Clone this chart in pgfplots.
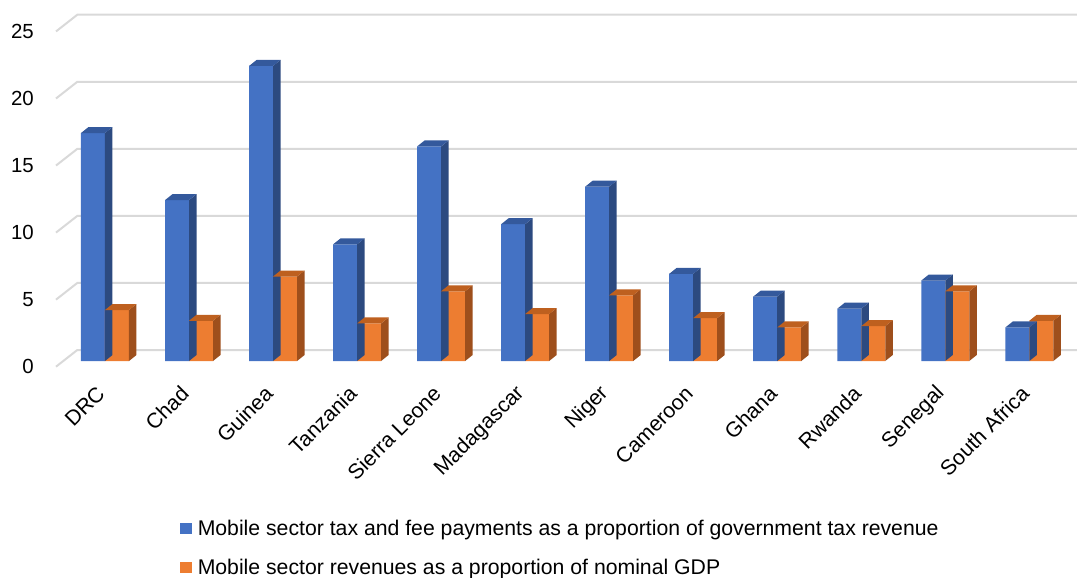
\documentclass[border=0pt]{standalone}
\usepackage{fontspec}
\setmainfont{Liberation Sans}
\usepackage{pgfplots}
\pgfplotsset{compat=1.18}
\usepackage{pgfplotstable}

\definecolor{blueF}{HTML}{4472C4}
\definecolor{blueS}{HTML}{2C4A80}
\definecolor{blueT}{HTML}{34599C}
\definecolor{oraF}{HTML}{ED7D31}
\definecolor{oraS}{HTML}{9E4F1C}
\definecolor{oraT}{HTML}{BE601F}
\definecolor{gridc}{HTML}{D9D9D9}

\pgfplotstableread{
i blue orange
0 17.0 3.8
1 12.0 3.0
2 22.0 6.3
3 8.7 2.8
4 16.0 5.2
5 10.2 3.5
6 13.0 4.9
7 6.5 3.2
8 4.8 2.5
9 3.9 2.6
10 6.0 5.2
11 2.5 3.0
}\datatable

\newcommand{\yu}{13.41}

\begin{document}
\begin{tikzpicture}[font=\fontsize{21}{25}\selectfont]
\begin{axis}[
  x=84.03bp, y=13.41bp,
  xmin=-0.5831, xmax=11.567, ymin=0, ymax=26.5,
  clip=false,
  axis line style={draw=none},
  major tick length=0pt,
  xtick={0,...,11},
  xticklabels={DRC,Chad,Guinea,Tanzania,Sierra Leone,Madagascar,Niger,Cameroon,Ghana,Rwanda,Senegal,South Africa},
  xticklabel style={xshift=-4bp, yshift=-29bp, rotate=45, anchor=east, inner sep=0pt, font=\fontsize{21.3}{25}\selectfont},
  ytick={0,5,...,25},
  yticklabel style={anchor=east, inner sep=0pt, xshift=-22bp, yshift=-5.7bp, font=\fontsize{20.5}{24}\selectfont},
  /pgf/number format/assume math mode=true,
  legend cell align=left,
  legend style={at={(0.1215,-0.448)}, anchor=north west, draw=none, fill=none,
    inner sep=0pt, row sep=22bp, font=\fontsize{21.3}{25}\selectfont,
    nodes={inner sep=0pt},
    /tikz/every odd column/.append style={column sep=6bp}},
]
\pgfplotsinvokeforeach{0,5,10,15,20,25}{
  \draw[gridc, line width=2bp] ([yshift=-5.7bp]axis cs:-0.5831,#1) -- ([xshift=21.3bp,yshift=11bp]axis cs:-0.5831,#1) -- ([yshift=11bp]axis cs:11.567,#1);
}
% blue front faces
\addplot[ybar, bar width=24bp, bar shift=-12bp, fill=blueF, draw=none,
  legend image code/.code={\fill[blueF] (0bp,-5.5bp) rectangle (11.5bp,5.5bp);}]
  table[x=i,y=blue]{\datatable};
\addlegendentry{Mobile sector tax and fee payments as a proportion of government tax revenue}
% blue side and top faces
\addplot[forget plot, scatter, only marks, mark=*, mark size=0pt,
  mark options={draw opacity=0, fill opacity=0},
  visualization depends on={\thisrow{blue} \as \val},
  scatter/@pre marker code/.code={%
    \pgfmathsetmacro\hb{6-\val*\yu}%
    \pgfmathsetmacro\hf{-\val*\yu}%
    \fill[blueS, fill opacity=1] (0bp,0bp) -- (7.5bp,6bp) -- (7.5bp,\hb bp) -- (0bp,\hf bp) -- cycle;
    \fill[blueT, fill opacity=1] (-24bp,0bp) -- (0bp,0bp) -- (7.5bp,6bp) -- (-16.5bp,6bp) -- cycle;
  },
  scatter/@post marker code/.code={}]
  table[x=i,y=blue]{\datatable};
% orange front faces
\addplot[ybar, bar width=24bp, bar shift=12bp, fill=oraF, draw=none,
  legend image code/.code={\fill[oraF] (0bp,-5.5bp) rectangle (11.5bp,5.5bp);}]
  table[x=i,y=orange]{\datatable};
\addlegendentry{Mobile sector revenues as a proportion of nominal GDP}
% orange side and top faces
\addplot[forget plot, scatter, only marks, mark=*, mark size=0pt,
  mark options={draw opacity=0, fill opacity=0},
  visualization depends on={\thisrow{orange} \as \val},
  scatter/@pre marker code/.code={%
    \pgfmathsetmacro\hb{6-\val*\yu}%
    \pgfmathsetmacro\hf{-\val*\yu}%
    \fill[oraS, fill opacity=1] (24bp,0bp) -- (31.5bp,6bp) -- (31.5bp,\hb bp) -- (24bp,\hf bp) -- cycle;
    \fill[oraT, fill opacity=1] (0bp,0bp) -- (24bp,0bp) -- (31.5bp,6bp) -- (7.5bp,6bp) -- cycle;
  },
  scatter/@post marker code/.code={}]
  table[x=i,y=orange]{\datatable};
\end{axis}
\pgfresetboundingbox
\path[use as bounding box] (-56bp,-217bp) rectangle (1021bp,361bp);
\end{tikzpicture}
\end{document}
